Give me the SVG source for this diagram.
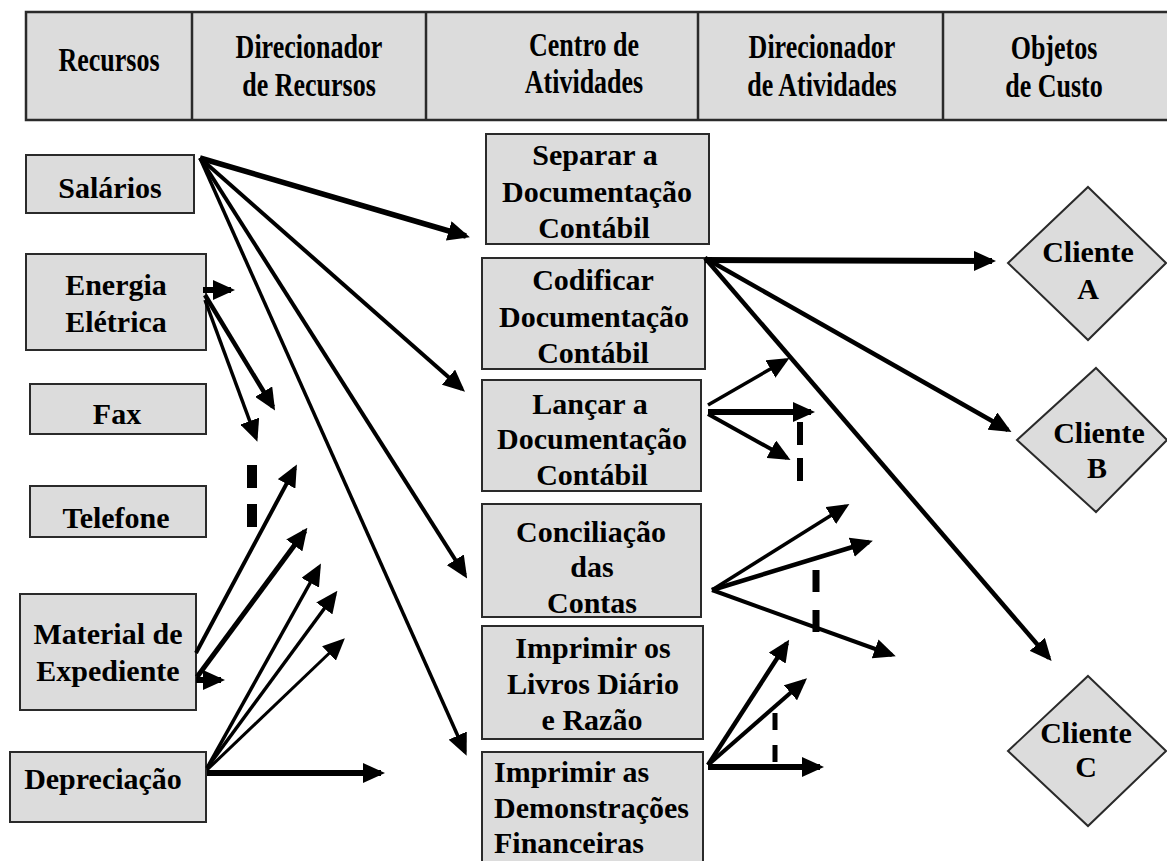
<svg xmlns="http://www.w3.org/2000/svg" width="1167" height="861" viewBox="0 0 1167 861">
  <style>
    .box { fill: #dcdcdc; stroke: #2a2a2a; stroke-width: 2; }
    .hdr { fill: #dcdcdc; stroke: #2a2a2a; stroke-width: 2.5; }
    .t { font-family: "Liberation Serif", "Times New Roman", serif; font-weight: bold; font-size: 30px; text-anchor: middle; fill: #000; }
    .h { font-family: "Liberation Serif", "Times New Roman", serif; font-weight: bold; font-size: 26px; text-anchor: middle; fill: #000; }
    .l { text-anchor: start; }
    .c { fill: none; stroke: #000; marker-end: url(#ah); }
    .d { fill: none; stroke: #000; }
  </style>
  <defs>
    <marker id="ah" markerUnits="userSpaceOnUse" markerWidth="22" markerHeight="20" viewBox="0 0 22 20" refX="18" refY="10" orient="auto">
      <path d="M0,0 L22,10 L0,20 z" fill="#000"/>
    </marker>
  </defs>

  <!-- header band: column titles use tall, narrow lettering -->
  <g id="header">
    <rect class="hdr" x="26" y="12" width="1145" height="108"/>
    <line class="hdr" x1="192" y1="12" x2="192" y2="120"/>
    <line class="hdr" x1="426" y1="12" x2="426" y2="120"/>
    <line class="hdr" x1="698" y1="12" x2="698" y2="120"/>
    <line class="hdr" x1="943" y1="12" x2="943" y2="120"/>
    <text class="h" transform="translate(109,71) scale(1,1.3)">Recursos</text>
    <text class="h" transform="translate(309,58) scale(1,1.3)">Direcionador</text>
    <text class="h" transform="translate(309,96) scale(1,1.3)">de Recursos</text>
    <text class="h" transform="translate(584,56) scale(1,1.3)">Centro de</text>
    <text class="h" transform="translate(584,93) scale(1,1.3)">Atividades</text>
    <text class="h" transform="translate(822,58) scale(1,1.3)">Direcionador</text>
    <text class="h" transform="translate(822,96) scale(1,1.3)">de Atividades</text>
    <text class="h" transform="translate(1054,59) scale(1,1.3)">Objetos</text>
    <text class="h" transform="translate(1054,97) scale(1,1.3)">de Custo</text>
  </g>

  <!-- resources -->
  <g id="salarios">
    <rect class="box" x="26" y="155" width="168" height="58"/>
    <text class="t" x="110" y="198">Salários</text>
  </g>
  <g id="energia">
    <rect class="box" x="26" y="254" width="180" height="96"/>
    <text class="t" x="116" y="295">Energia</text>
    <text class="t" x="116" y="332">Elétrica</text>
  </g>
  <g id="fax">
    <rect class="box" x="30" y="384" width="176" height="50"/>
    <text class="t" x="117" y="424">Fax</text>
  </g>
  <g id="telefone">
    <rect class="box" x="30" y="486" width="176" height="51"/>
    <text class="t" x="116" y="528">Telefone</text>
  </g>
  <g id="material">
    <rect class="box" x="20" y="594" width="176" height="116"/>
    <text class="t" x="108" y="644">Material de</text>
    <text class="t" x="108" y="681">Expediente</text>
  </g>
  <g id="depreciacao">
    <rect class="box" x="10" y="752" width="196" height="70"/>
    <text class="t" x="103" y="789">Depreciação</text>
  </g>

  <!-- activities -->
  <g id="separar">
    <rect class="box" x="486" y="134" width="223" height="110"/>
    <text class="t" x="595" y="165">Separar a</text>
    <text class="t" x="597" y="202">Documentação</text>
    <text class="t" x="594" y="238">Contábil</text>
  </g>
  <g id="codificar">
    <rect class="box" x="482" y="258" width="223" height="111"/>
    <text class="t" x="593" y="290">Codificar</text>
    <text class="t" x="594" y="327">Documentação</text>
    <text class="t" x="593" y="363">Contábil</text>
  </g>
  <g id="lancar">
    <rect class="box" x="482" y="380" width="219" height="111"/>
    <text class="t" x="590" y="414">Lançar a</text>
    <text class="t" x="592" y="449">Documentação</text>
    <text class="t" x="592" y="485">Contábil</text>
  </g>
  <g id="conciliacao">
    <rect class="box" x="482" y="504" width="219" height="113"/>
    <text class="t" x="591" y="542">Conciliação</text>
    <text class="t" x="592" y="577">das</text>
    <text class="t" x="592" y="613">Contas</text>
  </g>
  <g id="imprimir-livros">
    <rect class="box" x="482" y="626" width="221" height="113"/>
    <text class="t" x="593" y="658">Imprimir os</text>
    <text class="t" x="593" y="694">Livros Diário</text>
    <text class="t" x="592" y="730">e Razão</text>
  </g>
  <g id="imprimir-demonstracoes">
    <rect class="box" x="482" y="752" width="221" height="120"/>
    <text class="t l" x="494" y="782">Imprimir as</text>
    <text class="t l" x="494" y="818">Demonstrações</text>
    <text class="t l" x="494" y="853">Financeiras</text>
  </g>

  <!-- cost objects -->
  <g id="cliente-a">
    <polygon class="box" points="1088,187 1166,263 1088,340 1008,263"/>
    <text class="t" x="1088" y="262">Cliente</text>
    <text class="t" x="1088" y="299">A</text>
  </g>
  <g id="cliente-b">
    <polygon class="box" points="1096,368 1167,440 1096,512 1017,440"/>
    <text class="t" x="1099" y="443">Cliente</text>
    <text class="t" x="1097" y="478">B</text>
  </g>
  <g id="cliente-c">
    <polygon class="box" points="1088,676 1166,751 1088,826 1008,751"/>
    <text class="t" x="1086" y="743">Cliente</text>
    <text class="t" x="1086" y="777">C</text>
  </g>

  <!-- connectors -->
  <g id="connectors">
    <!-- Salários -->
    <line class="c" x1="200" y1="158" x2="466" y2="236" stroke-width="5.5"/>
    <line class="c" x1="200" y1="158" x2="462" y2="389" stroke-width="4"/>
    <line class="c" x1="200" y1="158" x2="465" y2="575" stroke-width="4"/>
    <line class="c" x1="200" y1="158" x2="465" y2="752" stroke-width="3.5"/>
    <!-- Energia Elétrica -->
    <line class="c" x1="203" y1="290" x2="231" y2="290" stroke-width="6"/>
    <line class="c" x1="205" y1="295" x2="273" y2="407" stroke-width="4.5"/>
    <line class="c" x1="205" y1="300" x2="256" y2="438" stroke-width="3.5"/>
    <line class="d" x1="252" y1="465" x2="252" y2="527" stroke-width="10" stroke-dasharray="23,16"/>
    <!-- Material de Expediente -->
    <line class="c" x1="196" y1="653" x2="295" y2="468" stroke-width="4"/>
    <line class="c" x1="197" y1="677" x2="305" y2="531" stroke-width="5"/>
    <line class="c" x1="196" y1="680" x2="221" y2="680" stroke-width="6"/>
    <!-- Depreciação -->
    <line class="c" x1="207" y1="768" x2="319" y2="567" stroke-width="3.5"/>
    <line class="c" x1="207" y1="768" x2="335" y2="594" stroke-width="3.5"/>
    <line class="c" x1="207" y1="770" x2="342" y2="641" stroke-width="3"/>
    <line class="c" x1="207" y1="773" x2="381" y2="773" stroke-width="6"/>
    <!-- Codificar -->
    <line class="c" x1="705" y1="260" x2="992" y2="261" stroke-width="6"/>
    <line class="c" x1="705" y1="258" x2="1008" y2="430" stroke-width="4.5"/>
    <line class="c" x1="705" y1="258" x2="1049" y2="658" stroke-width="4.5"/>
    <!-- Lançar -->
    <line class="c" x1="708" y1="405" x2="786" y2="360" stroke-width="3.5"/>
    <line class="c" x1="708" y1="412" x2="811" y2="412" stroke-width="6"/>
    <line class="c" x1="708" y1="414" x2="787" y2="458" stroke-width="4"/>
    <line class="d" x1="800" y1="422" x2="800" y2="482" stroke-width="6" stroke-dasharray="23,13"/>
    <!-- Conciliação -->
    <line class="c" x1="712" y1="590" x2="846" y2="506" stroke-width="3.5"/>
    <line class="c" x1="712" y1="590" x2="869" y2="542" stroke-width="4.5"/>
    <line class="c" x1="712" y1="590" x2="892" y2="655" stroke-width="4"/>
    <line class="d" x1="816" y1="570" x2="816" y2="632" stroke-width="7" stroke-dasharray="22,18"/>
    <!-- Imprimir as Demonstrações -->
    <line class="c" x1="708" y1="765" x2="787" y2="643" stroke-width="4.5"/>
    <line class="c" x1="708" y1="765" x2="804" y2="681" stroke-width="4"/>
    <line class="c" x1="708" y1="767" x2="820" y2="767" stroke-width="6"/>
    <line class="d" x1="775" y1="713" x2="775" y2="763" stroke-width="5" stroke-dasharray="17,15"/>
  </g>
</svg>
